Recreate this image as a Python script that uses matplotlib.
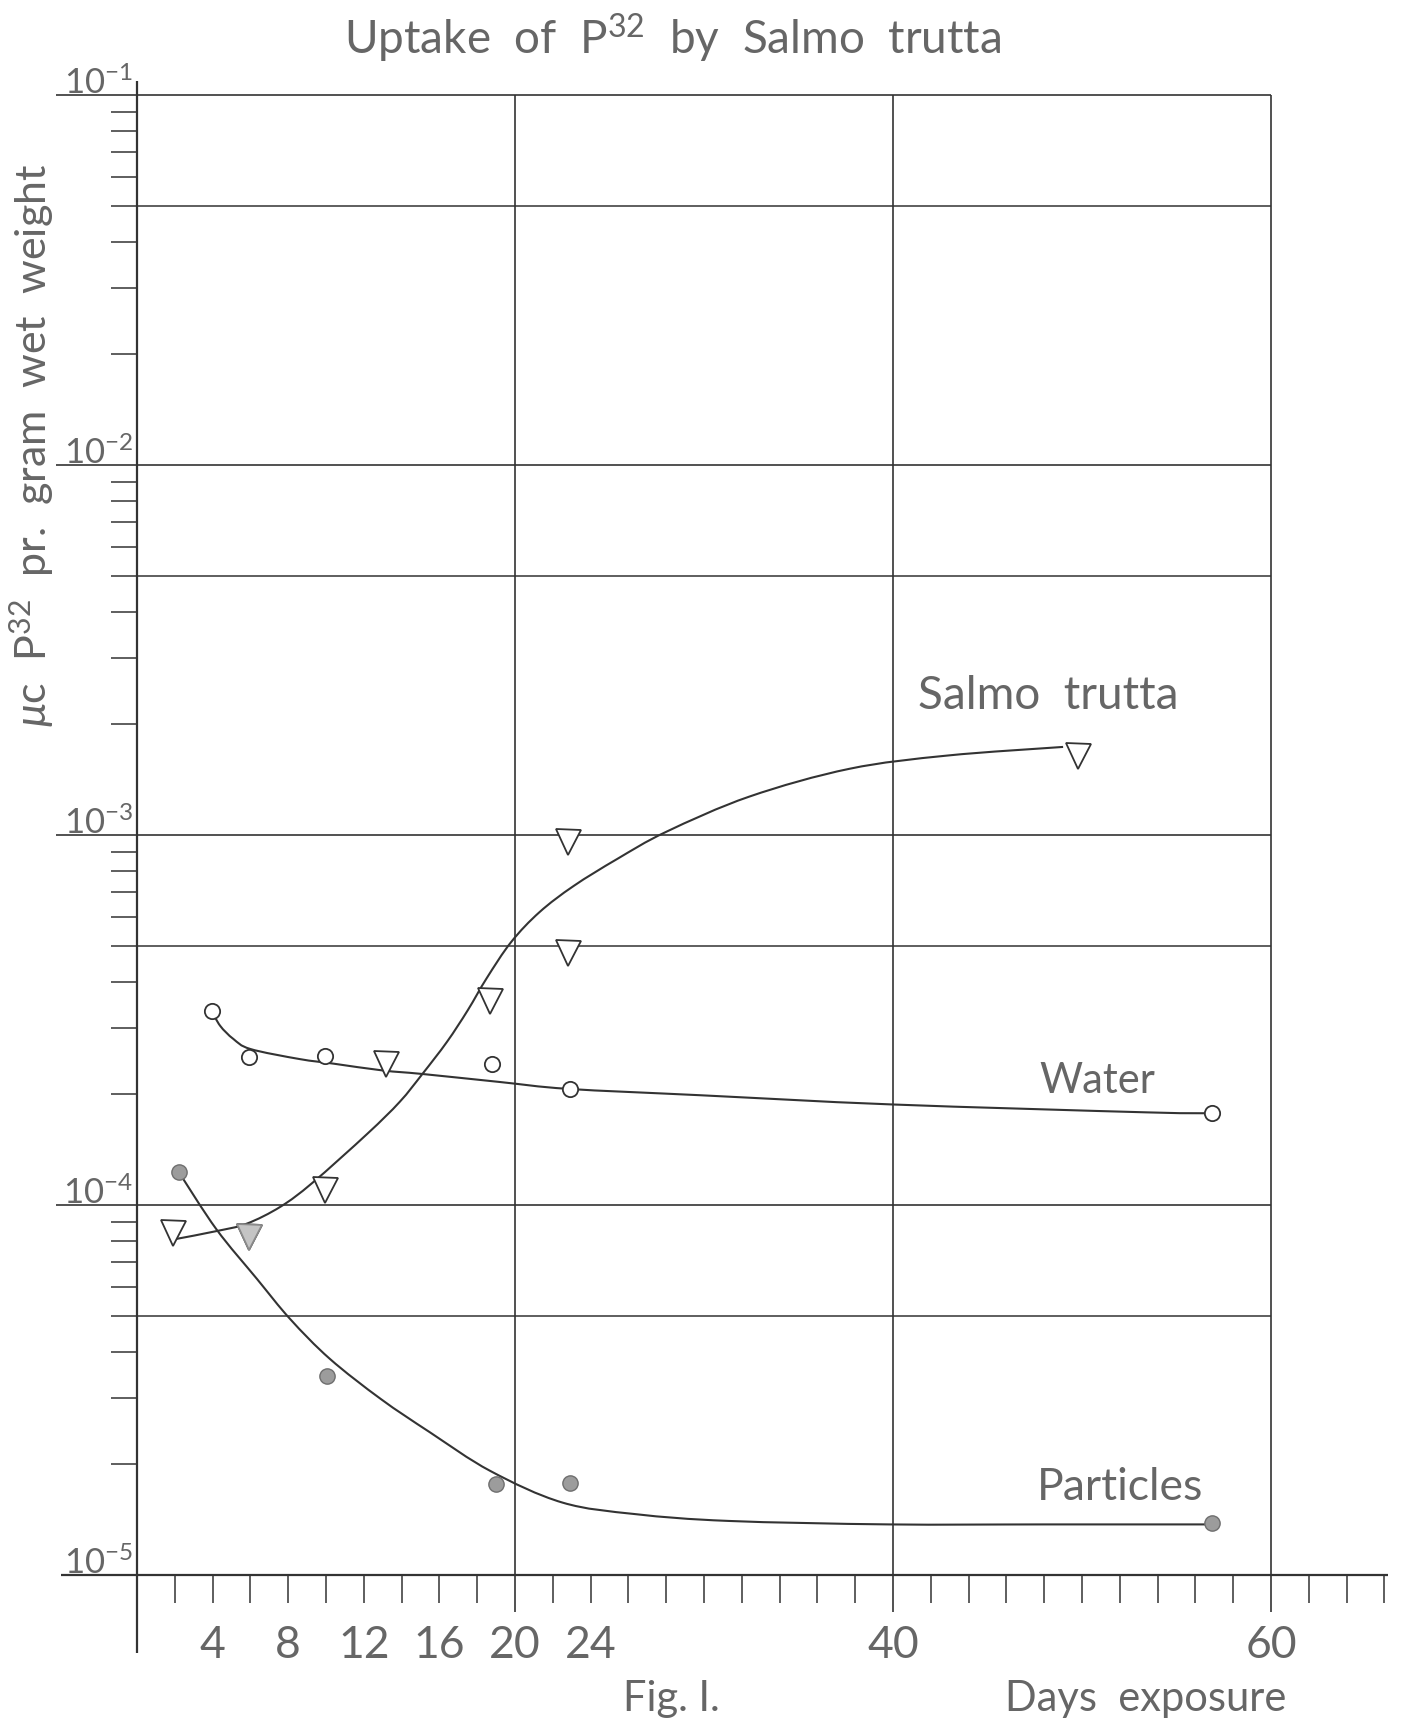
import numpy as np
import matplotlib
matplotlib.use("Agg")
import matplotlib.pyplot as plt
from matplotlib.path import Path
from matplotlib.patches import PathPatch

# uptake of P32 (microcurie per gram wet weight) against days of exposure
salmo_days = [1.9, 5.9, 9.95, 13.2, 18.7, 22.8, 22.8, 49.8]
salmo_vals = [8.4e-5, 8.2e-5, 1.10e-4, 2.40e-4, 3.56e-4, 9.6e-4, 4.8e-4, 1.63e-3]

water_days = [3.97, 5.9, 9.95, 18.8, 22.9, 56.9]
water_vals = [3.34e-4, 2.51e-4, 2.53e-4, 2.40e-4, 2.06e-4, 1.77e-4]

particle_days = [2.2, 10.05, 19.0, 22.9, 56.9]
particle_vals = [1.23e-4, 3.45e-5, 1.76e-5, 1.77e-5, 1.38e-5]

# hand-drawn fitted curves, read along their length
salmo_curve_days = [2.1, 4.2, 5.8, 7.6, 9.3, 12.2, 13.9, 15.1, 16.4, 17.5, 18.5,
                    19.8, 21.3, 23.1, 25.4, 28.0, 32.4, 37.7, 42.9, 49.0]
salmo_curve_vals = [8.1e-5, 8.5e-5, 8.9e-5, 9.9e-5, 1.15e-4, 1.56e-4, 1.90e-4,
                    2.26e-4, 2.76e-4, 3.36e-4, 4.10e-4, 5.14e-4, 6.19e-4, 7.28e-4,
                    8.61e-4, 1.02e-3, 1.27e-3, 1.51e-3, 1.64e-3, 1.73e-3]

water_curve_days = [3.97, 4.4, 5.1, 6.0, 8.6, 10.4, 13.0, 15.1, 19.2, 22.8, 29.8,
                    39.9, 53.4, 56.9]
water_curve_vals = [3.34e-4, 3.05e-4, 2.81e-4, 2.64e-4, 2.48e-4, 2.41e-4, 2.31e-4,
                    2.26e-4, 2.15e-4, 2.06e-4, 1.98e-4, 1.87e-4, 1.78e-4, 1.77e-4]

particle_curve_days = [2.2, 4.2, 6.35, 8.1, 10.2, 12.9, 15.5, 18.7, 22.5, 26.4,
                       31.3, 39.8, 48.0, 56.8]
particle_curve_vals = [1.23e-4, 8.6e-5, 6.31e-5, 4.92e-5, 3.84e-5, 2.99e-5, 2.43e-5,
                       1.91e-5, 1.57e-5, 1.46e-5, 1.40e-5, 1.37e-5, 1.37e-5, 1.37e-5]

xtick_labels = ["4", "8", "12", "16", "20", "24", "40", "60"]
xtick_vals = [4, 8, 12, 16, 20, 24, 40, 60]
decades = [-1, -2, -3, -4, -5]

plt.rcParams["font.family"] = ["Lato", "DejaVu Sans"]
plt.rcParams["font.weight"] = "normal"
plt.rcParams["mathtext.fontset"] = "custom"
plt.rcParams["mathtext.rm"] = "Lato"
plt.rcParams["mathtext.it"] = "Lato:italic"

W, H = 1404, 1724
ink = "#333333"
txt = "#666666"

fig = plt.figure(figsize=(W / 100, H / 100), dpi=100)
fig.patch.set_facecolor("white")
ax = fig.add_axes([137 / W, 1 - 1576 / H, 1134 / W, 1480 / H])
ax.set_xlim(0, 60)
ax.set_yscale("log")
ax.set_ylim(1e-5, 1e-1)
ax.axis("off")


def ftext(x, y, s, **kw):
    # place text by pixel position on the sheet
    fig.text(x / W, 1 - y / H, s, color=kw.pop("color", txt), **kw)


def smooth_curve(days, vals, **kw):
    # Catmull-Rom through the read points, as cubic Beziers in (day, log10) space
    p = np.column_stack([days, np.log10(vals)])
    pts = np.vstack([p[0], p, p[-1]])
    verts = [p[0]]
    codes = [Path.MOVETO]
    for i in range(1, len(pts) - 2):
        p0, p1, p2, p3 = pts[i - 1], pts[i], pts[i + 1], pts[i + 2]
        verts += [p1 + (p2 - p0) / 6, p2 - (p3 - p1) / 6, p2]
        codes += [Path.CURVE4] * 3
    verts = np.array(verts)
    verts[:, 1] = 10 ** verts[:, 1]
    ax.add_patch(PathPatch(Path(verts, codes), fill=False, **kw))


# frame: left axis, bottom axis
ax.vlines(0, 10 ** -5.21, 10 ** -0.962, color=ink, lw=1.6, clip_on=False)
ax.hlines(1e-5, -4.0, 66.2, color=ink, lw=1.6, clip_on=False)

# decade lines reach past the left axis
for d in decades[:-1]:
    ax.hlines(10.0 ** d, -4.3, 60, color=ink, lw=1.2, clip_on=False)

# minor ticks on the left, with a full line at 5
for d in decades[1:]:
    for m in range(2, 10):
        x1 = 60 if m == 5 else 0
        ax.hlines(m * 10.0 ** d, -1.35, x1, color=ink, lw=1.1, clip_on=False)

# vertical lines at 20, 40 and 60 days
for d in [20, 40, 60]:
    ax.vlines(d, 10 ** -5.1, 1e-1, color=ink, lw=1.2, clip_on=False)

# day ticks every two days below the axis
for d in range(2, 67, 2):
    if d in (20, 40, 60):
        continue
    ax.vlines(d, 10 ** -5.076, 1e-5, color=ink, lw=1.1, clip_on=False)

# curves
for cd, cv in [(salmo_curve_days, salmo_curve_vals),
               (water_curve_days, water_curve_vals),
               (particle_curve_days, particle_curve_vals)]:
    smooth_curve(cd, cv, edgecolor=ink, lw=1.5, zorder=3)

# observations
ax.plot(salmo_days, salmo_vals, "v", ms=18, mfc="white", mec=ink, mew=1.3, zorder=4)
ax.plot(salmo_days[1], salmo_vals[1], "v", ms=18, mfc="#c4c4c4", mec="#8a8a8a",
        mew=1.3, zorder=5)
ax.plot(water_days, water_vals, "o", ms=11, mfc="white", mec=ink, mew=1.3, zorder=4)
ax.plot(particle_days, particle_vals, "o", ms=11, mfc="#9c9c9c", mec="#6e6e6e",
        mew=1.0, zorder=4)

# tick labels
for v, lab in zip(xtick_vals, xtick_labels):
    x_px = 137 + v * 1134 / 60
    ftext(x_px, 1646, lab, fontsize=32, ha="center", va="center")

for d in decades:
    y_px = 96 + (-1 - d) * 370
    ftext(133, y_px - 2, "10$^{%d}$" % d, fontsize=25, ha="right", va="baseline")

# titles and annotations
ftext(673, 38, "Uptake  of  P$^{32}$  by  Salmo  trutta", fontsize=33,
      ha="center", va="center")
ftext(32, 445, "$\\mu$c  P$^{32}$  pr.  gram  wet  weight", fontsize=31,
      ha="center", va="center", rotation=90)
ftext(918, 696, "Salmo  trutta", fontsize=33, ha="left", va="center")
ftext(1039, 1081, "Water", fontsize=30, ha="left", va="center")
ftext(1037, 1488, "Particles", fontsize=32, ha="left", va="center")
ftext(671, 1699, "Fig. I.", fontsize=30, ha="center", va="center")
ftext(1146, 1699, "Days  exposure", fontsize=30, ha="center", va="center")

fig.savefig("out.png", dpi=100, facecolor="white")
